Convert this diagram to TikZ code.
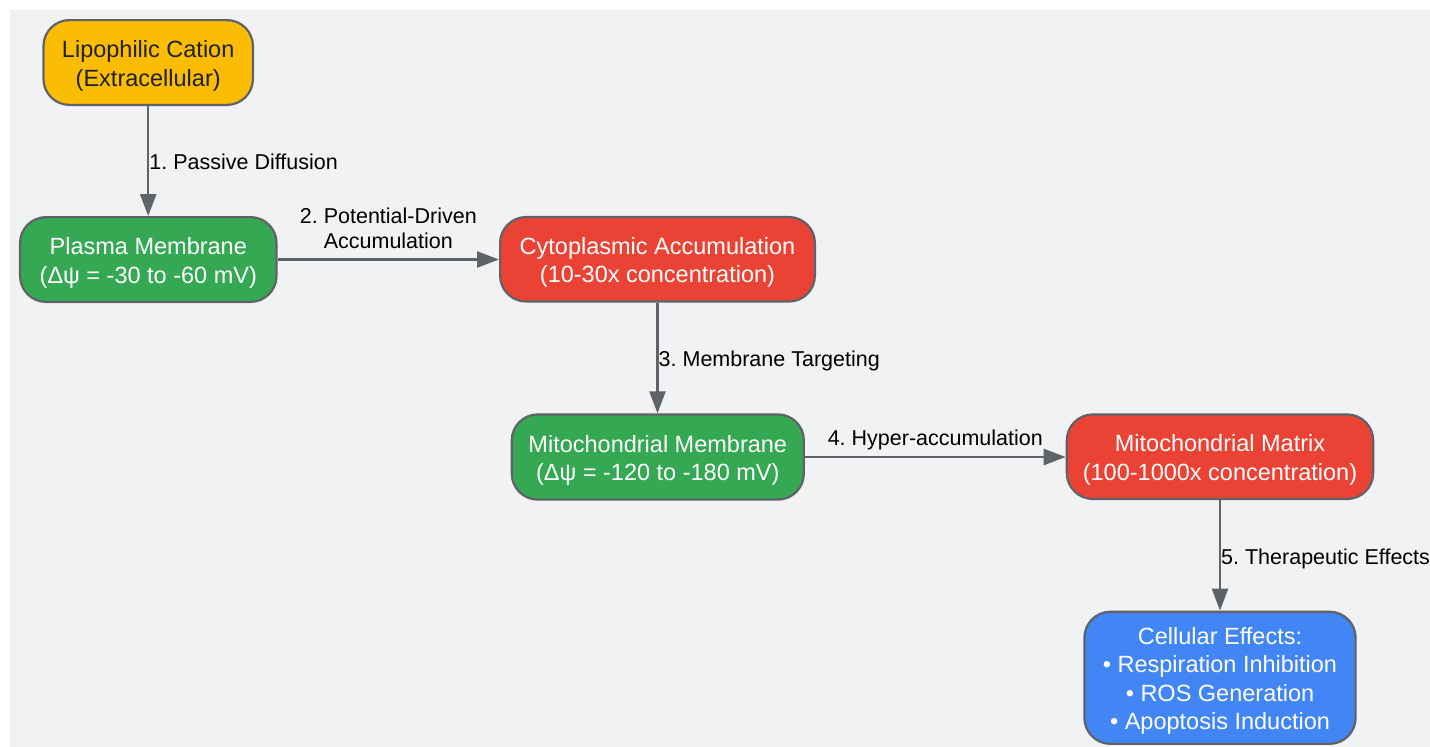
\documentclass[tikz,border=0pt]{standalone}
\usepackage{fontspec}
\setmainfont{Liberation Sans}
\usetikzlibrary{arrows.meta,calc}
\definecolor{bgc}{HTML}{F1F2F4}
\definecolor{edgec}{HTML}{5F6368}
\definecolor{cyel}{HTML}{FBBC04}
\definecolor{cgrn}{HTML}{34A853}
\definecolor{cred}{HTML}{EA4335}
\definecolor{cblu}{HTML}{4285F4}
\definecolor{inkc}{HTML}{202124}
\newcommand{\topstrut}{\rule{0pt}{23.5pt}}
\frenchspacing
\begin{document}
\begin{tikzpicture}[x=1pt,y=-1pt,
  box/.style={draw=edgec, line width=2.2pt, rounded corners=26pt, inner sep=0pt,
    align=center, font=\fontsize{23.5}{28.5}\selectfont, text=white},
  conn/.style={draw=edgec, line width=2.5pt, -{Triangle[length=22pt,width=16pt]}},
  lbl/.style={inner sep=0pt, font=\frenchspacing\fontsize{21.5}{24.8}\selectfont, text=black}]
\useasboundingbox (0,0) rectangle (1430,747);
\fill[white] (0,0) rectangle (1430,747);
\fill[bgc] (10,10) rectangle (1430,747);

\node[box, fill=cyel, text=inkc, minimum width=209.5pt, minimum height=84.8pt] (lip) at (148.2,62.5) {\topstrut Lipophilic Cation\\(Extracellular)};
\node[box, fill=cgrn, minimum width=256.5pt, minimum height=84.8pt] (pm) at (148.3,259.5) {\topstrut Plasma Membrane\\(Δψ = -30 to -60 mV)};
\node[box, fill=cred, minimum width=314.8pt, minimum height=84.5pt] (cy) at (657.5,259.3) {\topstrut Cytoplasmic Accumulation\\(10-30x concentration)};
\node[box, fill=cgrn, minimum width=292.1pt, minimum height=85.2pt] (mm) at (657.8,457) {\topstrut Mitochondrial Membrane\\(Δψ = -120 to -180 mV)};
\node[box, fill=cred, minimum width=306.4pt, minimum height=84.5pt] (mx) at (1220,456.7) {\topstrut Mitochondrial Matrix\\(100-1000x concentration)};
\node[box, fill=cblu, minimum width=271.2pt, minimum height=132.1pt] (ce) at (1220,677.8) {\topstrut Cellular Effects:\\• Respiration Inhibition\\• ROS Generation\\• Apoptosis Induction};

\draw[conn] (lip.south) -- (lip.south |- pm.north) coordinate[pos=0.5] (m1);
\draw[conn] (pm.east) -- (pm.east -| cy.west) coordinate[pos=0.5] (m2);
\draw[conn] (cy.south) -- (cy.south |- mm.north) coordinate[pos=0.5] (m3);
\draw[conn] (mm.east) -- (mm.east -| mx.west) coordinate[pos=0.5] (m4);
\draw[conn] (mx.south) -- (mx.south |- ce.north) coordinate[pos=0.5] (m5);

\node[lbl, anchor=base west] (l1) at ([shift={(1,8.5)}]m1) {1. Passive Diffusion};
\node[lbl, anchor=south, align=center, text depth=0pt] (l2) at ([shift={(0,-11)}]m2) {2. Potential-Driven\\Accumulation};
\node[lbl, anchor=base west] (l3) at ([shift={(1,8.7)}]m3) {3. Membrane Targeting};
\node[lbl, anchor=base] (l4) at ([shift={(0,-11.5)}]m4) {4. Hyper-accumulation};
\node[lbl, anchor=base west] (l5) at ([shift={(1,8.7)}]m5) {5. Therapeutic Effects};
\end{tikzpicture}
\end{document}
